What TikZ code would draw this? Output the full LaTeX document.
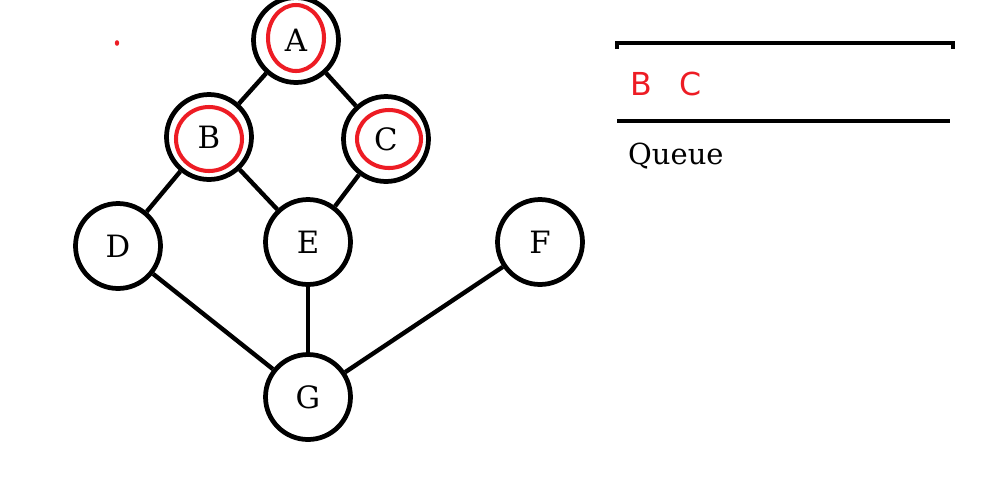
\documentclass[tikz,border=0pt]{standalone}
\usepackage{fontspec}
\setmainfont{DejaVu Serif}
\newfontfamily\qsans{DejaVu Sans}
\usetikzlibrary{calc,positioning}
\definecolor{markred}{HTML}{ED1C24}
\tikzset{
    vert/.style={circle,draw=black,line width=2.7pt,minimum size=1.7cm,inner sep=0pt,
                 font=\fontsize{17.5}{20}\selectfont},
    gedge/.style={line width=2.5pt,draw=black},
    visited/.style={draw=markred,line width=2.3pt},
    qline/.style={line width=2.7pt,draw=black},
    qitem/.style={text=markred,font=\qsans\fontsize{18}{21}\selectfont}
}
\begin{document}
\begin{tikzpicture}[x=0.02cm,y=-0.02cm]
  \useasboundingbox (0,0) rectangle (997,481);
  % vertices
  \node[vert] (A) at (296,40) {A};
  \node[vert] (B) at (209,137) {B};
  \node[vert] (C) at (386,139) {C};
  \node[vert] (D) at (118,246) {D};
  \node[vert] (E) at (308,242) {E};
  \node[vert] (F) at (540,242) {F};
  \node[vert] (G) at (308,397) {G};
  % edges
  \foreach \u/\v in {A/B,A/C,B/D,B/E,C/E,D/G,E/G,F/G}{
    \draw[gedge] (\u) -- (\v);
  }
  % visited marks
  \draw[visited] ($(A)+(0,-2)$) ellipse (28 and 33);
  \draw[visited] ($(B)+(0,2)$) ellipse (33 and 32);
  \draw[visited] ($(C)+(3,0)$) ellipse (32 and 29);
  \fill[markred] (117,43) ellipse (2.2 and 2.8);
  % queue
  \coordinate (qtl) at (617,43);
  \coordinate (qtr) at (953,43);
  \coordinate (qbl) at (617,121);
  \coordinate (qbr) at (950,121);
  \draw[qline] ($(qtl)+(0,6)$) -- (qtl) -- (qtr) -- ($(qtr)+(0,6)$);
  \draw[qline] (qbl) -- (qbr);
  \node[qitem] (qB) at (641,84) {B};
  \node[qitem,right=1cm of qB.center,anchor=center] (qC) {C};
  \node[font=\fontsize{16.5}{19}\selectfont,anchor=west] (qlab) at (622,156) {Queue};
\end{tikzpicture}
\end{document}
